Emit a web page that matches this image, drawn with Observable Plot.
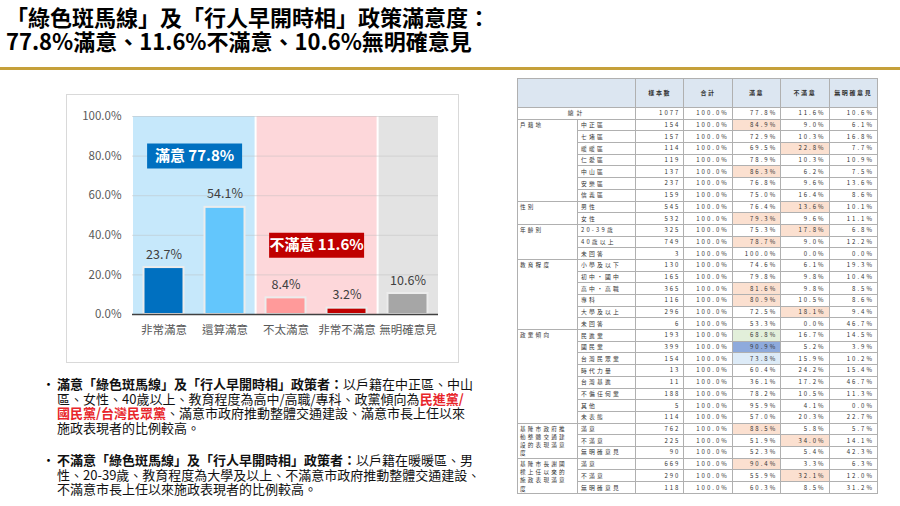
<!DOCTYPE html>
<html><head><meta charset="utf-8">
<script src="https://cdn.jsdelivr.net/npm/d3@7"></script>
<script src="https://cdn.jsdelivr.net/npm/@observablehq/plot@0.6"></script>
<style>
body{margin:0;width:900px;height:506px;position:relative;background:#fff;font-family:"Noto Sans CJK TC","Noto Sans",sans-serif;overflow:hidden;color:#000}
.tl{position:absolute;left:6px;font-size:22px;font-weight:700;line-height:24px;height:24px;white-space:nowrap}
#gold{position:absolute;left:0;top:67px;width:900px;height:3px;background:#c5a03a}
#chartbox{position:absolute;left:67px;top:95px;width:391px;height:267px;box-shadow:0 0 0 1px #d9d9d9}
#chartbox svg{display:block}
.bl{position:absolute;left:57px;height:14.7px;font-size:13px;line-height:14.7px;color:#111;white-space:nowrap}
.dot{position:absolute;left:42px;font-size:13px;line-height:14.7px}
.red{color:#e8262b;font-weight:700}
b{font-weight:700}
#tbl{position:absolute;left:517px;top:78px}
table{border-collapse:collapse;table-layout:fixed;width:360px;border:1px solid #8c8c8c}
td,th{box-sizing:border-box;padding:0;border:1px solid #b0b0b0;height:11.7px;line-height:1;overflow:hidden;white-space:nowrap;color:#333}
th{height:29px;background:#dce6f1;font-size:6px;font-weight:600;letter-spacing:1.6px;text-align:center}
td.num{text-align:right;padding-right:3px;font-size:6px;letter-spacing:2px}
td.sub{text-align:left;padding-left:3px;font-size:5.8px;letter-spacing:2.2px}
td.grp{text-align:left;vertical-align:top;padding:1px 0 0 2px;font-size:5.6px;letter-spacing:2.2px;line-height:8.3px;white-space:normal}
td.tot{text-align:center;font-size:5.8px;letter-spacing:3px}
</style></head>
<body>
<div class="tl" style="top:4px">「綠色斑馬線」及「行人早開時相」政策滿意度：</div>
<div class="tl" style="top:28px">77.8%滿意、11.6%不滿意、10.6%無明確意見</div>
<div id="gold"></div>
<div id="chartbox"></div>
<div class="dot" style="top:377px">•</div>
<div class="bl" style="top:377px"><b>滿意「綠色斑馬線」及「行人早開時相」政策者：</b>以戶籍在中正區、中山</div>
<div class="bl" style="top:391.7px">區、女性、40歲以上、教育程度為高中/高職/專科、政黨傾向為<span class="red">民進黨/</span></div>
<div class="bl" style="top:406.4px"><span class="red">國民黨/台灣民眾黨</span>、滿意市政府推動整體交通建設、滿意市長上任以來</div>
<div class="bl" style="top:421.1px">施政表現者的比例較高。</div>
<div class="dot" style="top:453px">•</div>
<div class="bl" style="top:453px"><b>不滿意「綠色斑馬線」及「行人早開時相」政策者：</b>以戶籍在暖暖區、男</div>
<div class="bl" style="top:467.7px">性、20-39歲、教育程度為大學及以上、不滿意市政府推動整體交通建設、</div>
<div class="bl" style="top:482.4px">不滿意市長上任以來施政表現者的比例較高。</div>
<div id="tbl"></div>
<script>
// ---- chart data ----
const categories = ["非常滿意","還算滿意","不太滿意","非常不滿意","無明確意見"];
const values = [23.7, 54.1, 8.4, 3.2, 10.6];
const groups = ["滿意","滿意","不滿意","不滿意","無明確意見"];
const yTicks = [0, 20, 40, 60, 80, 100];
const summaryLabels = ["滿意 77.8%", "不滿意 11.6%"];
const summaryAfter = ["非常滿意", "不太滿意"];
const summaryY = [80, 35];

// ---- table data ----
const tableHeaders = ["樣本數","合計","滿意","不滿意","無明確意見"];
const totalRow = ["總計", 1077, 77.8, 11.6, 10.6];
const groupNames = ["戶籍地","性別","年齡別","教育程度","政黨傾向","基隆市政府推動整體交通建設的表現滿意度","基隆市長謝國樑上任以來的施政表現滿意度"];
const groupLabelLines = [["戶籍地"],["性別"],["年齡別"],["教育程度"],["政黨傾向"],["基隆市政府推","動整體交通建","設的表現滿意","度"],["基隆市長謝國","樑上任以來的","施政表現滿意","度"]];
const groupRows = [
  [["中正區",154,84.9,9.0,6.1],["七堵區",157,72.9,10.3,16.8],["暖暖區",114,69.5,22.8,7.7],["仁愛區",119,78.9,10.3,10.9],["中山區",137,86.3,6.2,7.5],["安樂區",237,76.8,9.6,13.6],["信義區",159,75.0,16.4,8.6]],
  [["男性",545,76.4,13.6,10.1],["女性",532,79.3,9.6,11.1]],
  [["20-39歲",325,75.3,17.8,6.8],["40歲以上",749,78.7,9.0,12.2],["未回答",3,100.0,0.0,0.0]],
  [["小學及以下",130,74.6,6.1,19.3],["初中・國中",165,79.8,9.8,10.4],["高中・高職",365,81.6,9.8,8.5],["專科",116,80.9,10.5,8.6],["大學及以上",296,72.5,18.1,9.4],["未回答",6,53.3,0.0,46.7]],
  [["民進黨",193,68.8,16.7,14.5],["國民黨",399,90.9,5.2,3.9],["台灣民眾黨",154,73.8,15.9,10.2],["時代力量",13,60.4,24.2,15.4],["台灣基進",11,36.1,17.2,46.7],["不偏任何黨",188,78.2,10.5,11.3],["其他",5,95.9,4.1,0.0],["未表態",114,57.0,20.3,22.7]],
  [["滿意",762,88.5,5.8,5.7],["不滿意",225,51.9,34.0,14.1],["無明確意見",90,52.3,5.4,42.3]],
  [["滿意",669,90.4,3.3,6.3],["不滿意",290,55.9,32.1,12.0],["無明確意見",118,60.3,8.5,31.2]]
];
// [group index, row label, column, highlight kind]
const highlights = [
  [0,"中正區","滿意","high"],[0,"暖暖區","不滿意","high"],[0,"中山區","滿意","high"],
  [1,"男性","不滿意","high"],[1,"女性","滿意","high"],
  [2,"20-39歲","不滿意","high"],[2,"40歲以上","滿意","high"],
  [3,"高中・高職","滿意","high"],[3,"專科","滿意","high"],[3,"大學及以上","不滿意","high"],
  [4,"民進黨","滿意","dpp"],[4,"國民黨","滿意","kmt"],[4,"台灣民眾黨","滿意","tpp"],
  [5,"滿意","滿意","high"],[5,"不滿意","不滿意","high"],
  [6,"滿意","滿意","high"],[6,"不滿意","不滿意","high"]
];

// ---- styles ----
const barColor = {"非常滿意":"#0070c0","還算滿意":"#63c6fc","不太滿意":"#ff9a9a","非常不滿意":"#c00000","無明確意見":"#a6a6a6"};
const bandColor = {"滿意":"#c6e8fb","不滿意":"#fdd7da","無明確意見":"#e3e3e3"};
const summaryColor = ["#0070c0","#c00000"];
const hlColor = {high:"#fbe0d0", dpp:"#e2efda", kmt:"#8eaadc", tpp:"#ddebf7"};

const W = 391, H = 267, mL = 65, mR = 20, mT = 21, mB = 48;
const halfStep = (W - mL - mR) / categories.length / 2;
const rows = categories.map((c, i) => ({cat: c, value: values[i], group: groups[i]}));
const summary = summaryLabels.map((t, i) => ({label: t, after: summaryAfter[i], y: summaryY[i], fill: summaryColor[i]}));
const rectSymbol = {draw(ctx) { ctx.rect(-47.5, -12.5, 95, 25); }};

const chart = Plot.plot({
  width: W, height: H, marginLeft: mL, marginRight: mR, marginTop: mT, marginBottom: mB,
  style: {fontFamily: '"Noto Sans CJK TC", sans-serif', fontSize: "11.5px", background: "transparent", color: "#595959"},
  color: {type: "identity"},
  x: {domain: categories, padding: 0, label: null, tickSize: 0, tickPadding: 11},
  y: {domain: [0, 100], ticks: yTicks, tickFormat: d => d.toFixed(1) + "%", label: null, tickSize: 0, tickPadding: 11},
  marks: [
    Plot.barY(rows, {x: "cat", y1: 0, y2: 100, fill: d => bandColor[d.group], shapeRendering: "crispEdges"}),
    Plot.ruleX(["還算滿意", "非常不滿意"], {x: d => d, dx: halfStep, y1: 0, y2: 100, stroke: "white", strokeWidth: 2}),
    Plot.ruleY(yTicks.filter(t => t > 0), {stroke: "#bdbdbd", strokeOpacity: 0.45}),
    Plot.barY(rows, {x: "cat", y: "value", fill: d => barColor[d.cat], insetLeft: 10.5, insetRight: 10.5, stroke: "#ececec", strokeWidth: 2}),
    Plot.ruleY([0], {stroke: "#404040", strokeWidth: 1.5}),
    Plot.text(rows, {x: "cat", y: "value", text: d => d.value.toFixed(1) + "%", dy: -13, fill: "#404040", fontSize: 12.5}),
    Plot.dot(summary, {x: "after", y: "y", dx: halfStep, symbol: rectSymbol, r: 1, fill: "fill", stroke: null}),
    Plot.text(summary, {x: "after", y: "y", dx: halfStep, text: "label", fill: "white", fontSize: 15, fontWeight: "bold"})
  ]
});
document.getElementById("chartbox").appendChild(chart);

// ---- table ----
const fmt = v => v.toFixed(1) + "%";
const colKeys = tableHeaders.slice(2);
let html = '<table><colgroup><col style="width:60px"><col style="width:58px">' + tableHeaders.map(() => '<col style="width:48.4px">').join("") + '</colgroup>';
html += '<tr><th colspan="2"></th>' + tableHeaders.map(h => `<th>${h}</th>`).join("") + '</tr>';
html += `<tr><td class="tot" colspan="2">${totalRow[0]}</td><td class="num">${totalRow[1]}</td><td class="num">100.0%</td>` + totalRow.slice(2).map(v => `<td class="num">${fmt(v)}</td>`).join("") + '</tr>';
groupRows.forEach((gr, gi) => {
  gr.forEach((r, ri) => {
    html += '<tr>';
    if (ri === 0) html += `<td class="grp" rowspan="${gr.length}">${groupLabelLines[gi].join("<br>")}</td>`;
    html += `<td class="sub">${r[0]}</td><td class="num">${r[1]}</td><td class="num">100.0%</td>`;
    r.slice(2).forEach((v, ci) => {
      const h = highlights.find(x => x[0] === gi && x[1] === r[0] && x[2] === colKeys[ci]);
      html += `<td class="num"${h ? ` style="background:${hlColor[h[3]]}"` : ""}>${fmt(v)}</td>`;
    });
    html += '</tr>';
  });
});
html += '</table>';
document.getElementById("tbl").innerHTML = html;
</script>
</body></html>
